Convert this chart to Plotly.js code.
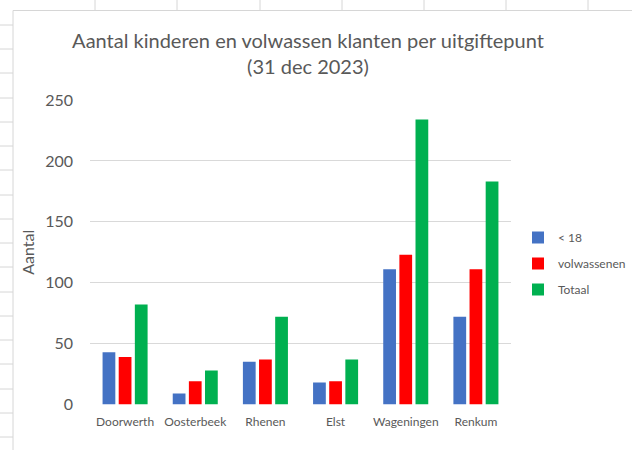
<!DOCTYPE html>
<html>
<head>
<meta charset="utf-8">
<script src="https://cdn.plot.ly/plotly-3.0.1.min.js"></script>
<style>html,body{margin:0;padding:0;background:#fff;}#chart{width:632px;height:450px;}</style>
</head>
<body>
<div id="chart"></div>
<script>
// Data
const categories = ["Doorwerth", "Oosterbeek", "Rhenen", "Elst", "Wageningen", "Renkum"];
const kinderen = [43, 9, 35, 18, 111, 72];        // < 18
const volwassenen = [39, 19, 37, 19, 123, 111];   // volwassenen
const totaal = [82, 28, 72, 37, 234, 183];        // Totaal
const seriesNames = ["< 18", "volwassenen", "Totaal"];
const seriesColors = ["#4472C4", "#FF0000", "#00B050"];
const yTicks = [0, 50, 100, 150, 200, 250];

const W = 632, H = 450;
const px = x => x / W;
const py = y => 1 - y / H;

const values = [kinderen, volwassenen, totaal];
const traces = values.map((v, i) => ({
  type: "bar",
  name: seriesNames[i],
  x: categories,
  y: v,
  legendgroup: "g" + i,
  marker: {color: seriesColors[i]},
  hoverinfo: "x+y+name"
}));

// Spreadsheet cell lines visible around the chart object (decoration)
const sheetColor = "#d6d6d6";
const shapes = [
  {type: "line", xref: "paper", yref: "paper", x0: px(13), x1: px(632), y0: py(10.5), y1: py(10.5), line: {color: sheetColor, width: 1}},
  {type: "line", xref: "paper", yref: "paper", x0: px(13), x1: px(13), y0: py(10.5), y1: py(450), line: {color: sheetColor, width: 1}}
];
[95, 177, 260, 342, 424, 506, 588].forEach(x => shapes.push(
  {type: "line", xref: "paper", yref: "paper", x0: px(x), x1: px(x), y0: py(0), y1: py(10.5), line: {color: sheetColor, width: 1}}));
[25, 49, 73, 98, 122, 146, 170, 195, 219, 243, 267, 292, 316, 340, 364, 389, 413, 437].forEach(y => shapes.push(
  {type: "line", xref: "paper", yref: "paper", x0: px(0), x1: px(13), y0: py(y), y1: py(y), line: {color: sheetColor, width: 1}}));

const layout = {
  width: W, height: H,
  margin: {l: 0, r: 0, t: 0, b: 0, pad: 0},
  paper_bgcolor: "#ffffff",
  plot_bgcolor: "#ffffff",
  font: {family: "Lato, 'Open Sans', sans-serif", color: "#595959"},
  title: {
    text: "Aantal kinderen en volwassen klanten per uitgiftepunt<br>(31 dec 2023)",
    font: {size: 20, color: "#595959"},
    x: px(308), xanchor: "center",
    y: py(48), yanchor: "top",
    xref: "paper", yref: "paper"
  },
  xaxis: {
    domain: [px(90), px(511)],
    type: "category",
    showgrid: false, zeroline: false, showline: false,
    ticks: "",
    tickfont: {size: 12, color: "#595959"},
    ticklabelstandoff: 8,
    automargin: false,
    fixedrange: true
  },
  yaxis: {
    domain: [py(404.5), py(100)],
    range: [0, 250],
    tickvals: yTicks,
    showgrid: true, gridcolor: "#d9d9d9", gridwidth: 1,
    zeroline: false, showline: false,
    ticks: "",
    tickfont: {size: 16, color: "#595959"},
    ticklabelstandoff: 16,
    title: {text: "Aantal", font: {size: 16, color: "#595959"}, standoff: 6},
    automargin: false,
    fixedrange: true
  },
  barmode: "group",
  bargap: 0.31,
  bargroupgap: 0.21,
  showlegend: true,
  legend: {
    x: px(518), xanchor: "left",
    y: py(223), yanchor: "top",
    font: {size: 12, color: "#595959"},
    tracegroupgap: 7,
    itemwidth: 30,
    bgcolor: "rgba(0,0,0,0)"
  },
  shapes: shapes
};

Plotly.newPlot("chart", traces, layout, {displayModeBar: false, staticPlot: true});
</script>
</body>
</html>
